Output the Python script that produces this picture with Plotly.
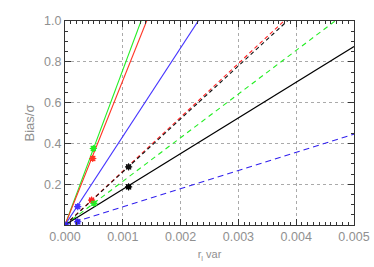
import plotly.graph_objects as go

# Line end values: y reached at x = 0.005 (lines start at origin)
line_names = ["green solid", "red solid", "blue solid", "red dashed", "black dashed", "green dashed", "black solid", "blue dashed"]
line_colors = ["#22ee22", "#ff3322", "#4433ff", "#ff2222", "#111111", "#22ee22", "#000000", "#3322ee"]
line_dash = ["solid", "solid", "solid", "4px,3px", "4px,3px", "5px,4px", "solid", "6px,4px"]
line_x = [0.0, 0.005]
line_y_end = [3.80, 3.54, 2.17, 1.32, 1.30, 1.07, 0.875, 0.445]

# Marker points
pt_x = [0.00049, 0.00048, 0.00046, 0.00050, 0.00022, 0.00022, 0.0011, 0.0011, 0.0]
pt_y = [0.375, 0.326, 0.122, 0.106, 0.090, 0.016, 0.285, 0.187, 0.0]
pt_colors = ["#22ee22", "#ff3322", "#ff2222", "#22ee22", "#4433ff", "#3322ee", "#111111", "#000000", "#3322ee"]

x_ticks = [0.0, 0.001, 0.002, 0.003, 0.004, 0.005]
x_ticklabels = ["0.000", "0.001", "0.002", "0.003", "0.004", "0.005"]
y_ticks = [0.2, 0.4, 0.6, 0.8, 1.0]
y_ticklabels = ["0.2", "0.4", "0.6", "0.8", "1.0"]

grey = "#909090"
fig = go.Figure()
for name, c, d, ye in zip(line_names, line_colors, line_dash, line_y_end):
    fig.add_trace(go.Scatter(x=line_x, y=[0.0, ye], mode="lines", name=name,
                             line=dict(color=c, dash=d, width=1.1), showlegend=False))
fig.add_trace(go.Scatter(x=pt_x, y=pt_y, mode="markers", showlegend=False,
                         marker=dict(symbol="asterisk-open", size=6, color=pt_colors,
                                     line=dict(color=pt_colors, width=1.1))))
fig.add_trace(go.Scatter(x=pt_x, y=pt_y, mode="markers", showlegend=False,
                         marker=dict(symbol="square-open", size=4, color=pt_colors,
                                     line=dict(color=pt_colors, width=1))))

fig.update_layout(
    width=374, height=267,
    margin=dict(l=65, r=20, t=21, b=42),
    paper_bgcolor="white", plot_bgcolor="white",
    font=dict(family="Liberation Sans, Arial, sans-serif", size=12, color=grey),
    xaxis=dict(range=[0, 0.005], tickvals=x_ticks, ticktext=x_ticklabels,
               ticks="inside", ticklen=6, tickcolor="#333333", mirror="allticks",
               showline=True, linecolor="#333333", linewidth=1,
               showgrid=True, gridcolor="#aaaaaa", griddash="dot", gridwidth=1,
               zeroline=False, automargin=False,
               tickfont=dict(size=12.5, color=grey),
               minor=dict(dtick=0.0001, ticks="inside", ticklen=3, tickcolor="#333333", showgrid=False),
               title=dict(text="r<sub>l</sub> var", font=dict(size=11, color=grey), standoff=7)),
    yaxis=dict(range=[0, 1.0], tickvals=y_ticks, ticktext=y_ticklabels,
               ticks="inside", ticklen=6, tickcolor="#333333", mirror="allticks",
               showline=True, linecolor="#333333", linewidth=1,
               showgrid=True, gridcolor="#aaaaaa", griddash="dot", gridwidth=1,
               zeroline=False, automargin=False,
               tickfont=dict(size=12.5, color=grey),
               minor=dict(dtick=0.05, ticks="inside", ticklen=3, tickcolor="#333333", showgrid=False),
               title=dict(text="Bias/σ", font=dict(size=13, color=grey), standoff=6)),
)
fig.write_html("out.html", config={"displayModeBar": False},
               post_script="document.body.style.margin='0';document.body.style.overflow='hidden';")
